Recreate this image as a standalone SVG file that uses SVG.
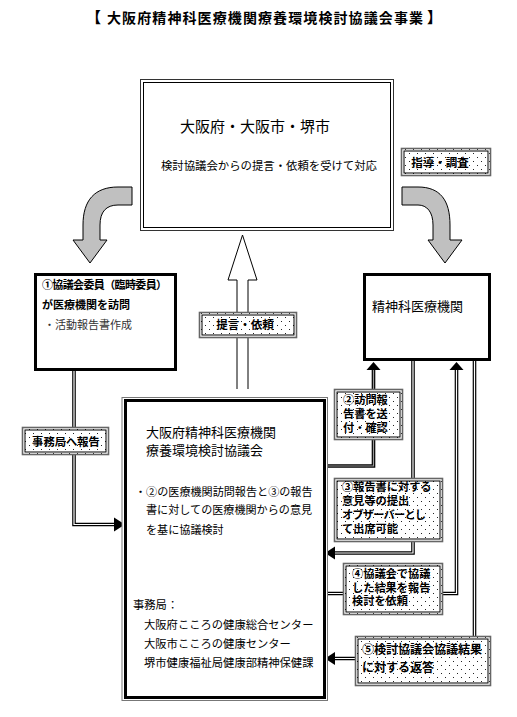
<svg xmlns="http://www.w3.org/2000/svg" width="517" height="717" viewBox="0 0 517 717">
<defs>
<pattern id="dots" width="8" height="8" patternUnits="userSpaceOnUse">
<rect width="8" height="8" fill="#fff"/>
<rect x="1" y="1" width="1" height="1" fill="#222"/>
<rect x="5" y="5" width="1" height="1" fill="#222"/>
</pattern>
</defs>
<style>
text{font-family:"Noto Sans CJK JP","Noto Sans CJK SC",sans-serif;fill:#000}
.b{font-weight:bold}
.box{fill:#fff;stroke:#000;stroke-width:3}
.lo{fill:url(#dots);stroke:#666;stroke-width:1.6}
.li{fill:none;stroke:#000;stroke-width:1}
.dl{fill:none;stroke:#000;stroke-width:3.6}
.dw{fill:none;stroke:#fff;stroke-width:1.2}
.ga{fill:#c0c0c0;stroke:#000;stroke-width:1}
</style>
<rect width="517" height="717" fill="#fff"/>

<g id="title">
<text x="101" y="23" font-size="15" class="b" text-anchor="end">【</text>
<text x="107" y="23" font-size="14" class="b" textLength="316" lengthAdjust="spacing">大阪府精神科医療機関療養環境検討協議会事業</text>
<text x="427" y="23" font-size="15" class="b">】</text>
</g>

<g id="connectors">
<path class="ga" d="M132,187 L118,187 C95,187 83,200 83,225 L83,240 L73,240 L90,263 L107,240 L100,240 L100,225 C100,212 106,205 118,205 L132,205 Z"/>
<path class="ga" d="M402,187 L418,187 C440,187 450,200 450,225 L450,240 L462,240 L445,263 L428,240 L433,240 L433,225 C433,212 427,205 418,205 L402,205 Z"/>
<path d="M237,389 L237,280 L228,280 L242.5,235 L257,280 L248,280 L248,389" fill="#fff" stroke="#000" stroke-width="1"/>
<path class="dl" d="M74,371 L74,524.5 L115,524.5"/>
<path class="dw" d="M74,371 L74,524.5 L115,524.5"/>
<path d="M114,517.5 L125,524.5 L114,531.5 Z" fill="#000"/>
<path class="dl" d="M327,466 L373.5,466 L373.5,370"/>
<path d="M327,466 L373.5,466 L373.5,370" fill="none" stroke="#999" stroke-width="1.2"/>
<path d="M366.5,370 L373.5,362 L380.5,370 Z" fill="#000"/>
<path class="dl" d="M413,361 L413,553 L335,553"/>
<path class="dw" d="M413,361 L413,553 L335,553"/>
<path d="M335,546.5 L325,553 L335,559.5 Z" fill="#000"/>
<path class="dl" d="M327,593.5 L456.5,593.5 L456.5,370"/>
<path class="dw" d="M327,593.5 L456.5,593.5 L456.5,370"/>
<path d="M449.5,370 L456.5,362 L463.5,370 Z" fill="#000"/>
<path class="dl" d="M474.5,361 L474.5,658.5 L335,658.5"/>
<path class="dw" d="M474.5,361 L474.5,658.5 L335,658.5"/>
<path d="M335,652 L325,658.5 L335,665 Z" fill="#000"/>
</g>

<g id="n-top">
<rect x="140.5" y="79.5" width="253" height="151" fill="#fff" stroke="#333" stroke-width="1"/>
<rect x="143.5" y="82.5" width="247" height="145" fill="none" stroke="#000" stroke-width="1"/>
<text x="180" y="132" font-size="15">大阪府・大阪市・堺市</text>
<text x="161" y="170" font-size="11.4" textLength="216">検討協議会からの提言・依頼を受けて対応</text>
</g>

<g id="l-shido">
<rect class="lo" x="401.5" y="148.5" width="89" height="27"/>
<rect class="li" x="404" y="151" width="84" height="22"/>
<text x="440" y="167" font-size="11.5" class="b" text-anchor="middle">指導・調査</text>
</g>

<g id="n-iin">
<rect class="box" x="35.5" y="274.5" width="140" height="95"/>
<text x="42" y="289" font-size="11" class="b" textLength="125">①協議会委員（臨時委員）</text>
<text x="42" y="309" font-size="11" class="b">が医療機関を訪問</text>
<text x="44" y="329" font-size="11" style="fill:#333">・活動報告書作成</text>
</g>

<g id="n-hosp">
<rect class="box" x="364.5" y="274.5" width="125" height="85"/>
<text x="372" y="311" font-size="13">精神科医療機関</text>
</g>

<g id="l-teigen">
<rect class="lo" x="199.5" y="312.5" width="97" height="25"/>
<rect class="li" x="202" y="315" width="92" height="20"/>
<text x="245" y="329" font-size="11.5" class="b" text-anchor="middle">提言・依頼</text>
</g>

<g id="l-jimu">
<rect class="lo" x="22.5" y="427.5" width="86" height="27"/>
<rect class="li" x="25" y="430" width="81" height="22"/>
<text x="66" y="446" font-size="11.3" class="b" text-anchor="middle">事務局へ報告</text>
</g>

<g id="n-council">
<rect x="122" y="397.5" width="205.5" height="303" fill="#fff" stroke="#777" stroke-width="1"/>
<rect x="125.5" y="400.5" width="199" height="297" fill="none" stroke="#000" stroke-width="3"/>
<text x="146" y="437" font-size="13">大阪府精神科医療機関</text>
<text x="146" y="455" font-size="13">療養環境検討協議会</text>
<text x="135" y="496" font-size="11.1">・②の医療機関訪問報告と③の報告</text>
<text x="146" y="514" font-size="11.1">書に対しての医療機関からの意見</text>
<text x="146" y="534" font-size="11.1">を基に協議検討</text>
<text x="133" y="609" font-size="11.3">事務局：</text>
<text x="144" y="629" font-size="11.3">大阪府こころの健康総合センター</text>
<text x="144" y="648" font-size="11.3">大阪市こころの健康センター</text>
<text x="144" y="667" font-size="11.3">堺市健康福祉局健康部精神保健課</text>
</g>

<g id="l-2">
<rect class="lo" x="334.5" y="389.5" width="68" height="50"/>
<rect class="li" x="337" y="392" width="63" height="45"/>
<text x="343" y="404" font-size="11.2" class="b">②訪問報</text>
<text x="343" y="418" font-size="11.2" class="b">告書を送</text>
<text x="343" y="432" font-size="11.2" class="b">付・確認</text>
</g>

<g id="l-3">
<rect class="lo" x="334.5" y="478.5" width="108" height="63"/>
<rect class="li" x="337" y="481" width="103" height="58"/>
<text x="342" y="491" font-size="11.2" class="b">③報告書に対する</text>
<text x="342" y="505" font-size="11.2" class="b">意見等の提出</text>
<text x="342" y="519" font-size="11.2" class="b" textLength="84">オブザーバーとし</text>
<text x="342" y="533" font-size="11.2" class="b">て出席可能</text>
</g>

<g id="l-4">
<rect class="lo" x="343.5" y="563.5" width="99" height="51"/>
<rect class="li" x="346" y="566" width="94" height="46"/>
<text x="352" y="578" font-size="11.2" class="b">④協議会で協議</text>
<text x="352" y="592" font-size="11.2" class="b">した結果を報告</text>
<text x="352" y="605" font-size="11.2" class="b">検討を依頼</text>
</g>

<g id="l-5">
<rect class="lo" x="355.5" y="636.5" width="135" height="49"/>
<rect class="li" x="358" y="639" width="130" height="44"/>
<text x="362" y="654" font-size="12" class="b">⑤検討協議会協議結果</text>
<text x="362" y="672" font-size="12" class="b">に対する返答</text>
</g>
</svg>
